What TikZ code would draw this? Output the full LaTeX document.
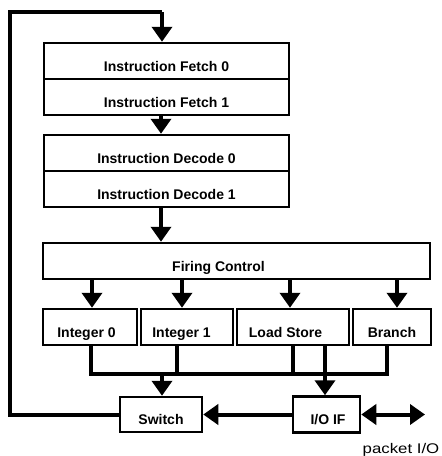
\documentclass[tikz,border=0pt]{standalone}
\usepackage{fontspec}
\setmainfont{Liberation Sans}
\usetikzlibrary{arrows.meta}
\begin{document}
\begin{tikzpicture}[x=1pt,y=-1pt,
  box/.style={draw, line width=2.5pt, inner sep=0pt,
    font=\fontsize{14}{16}\selectfont\bfseries,
    text height=20pt, text depth=0pt},
  conn/.style={line width=4pt},
  arr/.style={conn, -{Triangle[length=15pt,width=20pt]}},
  dblarr/.style={conn, {Triangle[length=15pt,width=20pt]}-{Triangle[length=15pt,width=20pt]}},
]
\useasboundingbox (0,0) rectangle (442,456);

% boxes
\node[box, minimum width=245pt, minimum height=36pt] (if0) at (166.5,61) {Instruction Fetch 0};
\node[box, minimum width=245pt, minimum height=36pt] (if1) at (166.5,97) {Instruction Fetch 1};
\node[box, minimum width=245pt, minimum height=36pt] (id0) at (166.5,153) {Instruction Decode 0};
\node[box, minimum width=245pt, minimum height=36pt] (id1) at (166.5,189) {Instruction Decode 1};
\node[box, minimum width=387pt, minimum height=36pt] (fc) at (236.5,261) {\hspace*{-36pt}Firing Control};
\node[box, minimum width=94pt, minimum height=36pt] (int0) at (90,327) {\hspace*{-7pt}Integer 0};
\node[box, minimum width=92pt, minimum height=36pt] (int1) at (187,327) {\hspace*{-11pt}Integer 1};
\node[box, minimum width=112pt, minimum height=36pt] (ls) at (293,327) {\hspace*{-15pt}Load Store};
\node[box, minimum width=78pt, minimum height=36pt] (br) at (392,327) {Branch};
\node[box, minimum width=82pt, minimum height=35pt] (sw) at (161,414.5) {Switch};
\node[box, minimum width=67pt, minimum height=36pt] (io) at (326.5,414.5) {\hspace*{3pt}I/O IF};
\node[inner sep=0pt, anchor=base, font=\fontsize{14}{16}\selectfont] (pkt) at (401,453) {\scalebox{1.2}[1]{packet I/O}};

% helper coordinates
\coordinate (spine) at (161,0);
\coordinate (fbL) at (10,12);
\coordinate (fbT) at (162,12);
\coordinate (a1) at (92,0);
\coordinate (a2) at (182,0);
\coordinate (a3) at (290,0);
\coordinate (a4) at (397,0);
\coordinate (b1) at (91,374);
\coordinate (b2) at (177,374);
\coordinate (b3) at (293,374);
\coordinate (b4) at (325,374);
\coordinate (b5) at (387,374);
\coordinate (sb) at (162,374);
\coordinate (pio) at (425,414.5);

% feedback loop
\draw[conn] (sw.west) -| (fbL) -- (fbT);
\draw[arr] (fbT) -- (fbT |- if0.north);

% pipeline
\draw[arr] (if1.south -| spine) -- (id0.north -| spine);
\draw[arr] (id1.south -| spine) -- (fc.north -| spine);

% firing control to units
\draw[arr] (fc.south -| a1) -- (int0.north -| a1);
\draw[arr] (fc.south -| a2) -- (int1.north -| a2);
\draw[arr] (fc.south -| a3) -- (ls.north -| a3);
\draw[arr] (fc.south -| a4) -- (br.north -| a4);

% result bus
\draw[conn] (int0.south -| b1) -- (b1) -- (b5) -- (br.south -| b5);
\draw[conn] (int1.south -| b2) -- (b2);
\draw[conn] (ls.south -| b3) -- (b3);
\draw[arr] (ls.south -| b4) -- (io.north -| b4);
\draw[arr] (sb) -- (sw.north -| sb);

% I/O
\draw[arr] (io.west) -- (sw.east);
\draw[dblarr] (io.east) -- (pio);
\end{tikzpicture}
\end{document}
